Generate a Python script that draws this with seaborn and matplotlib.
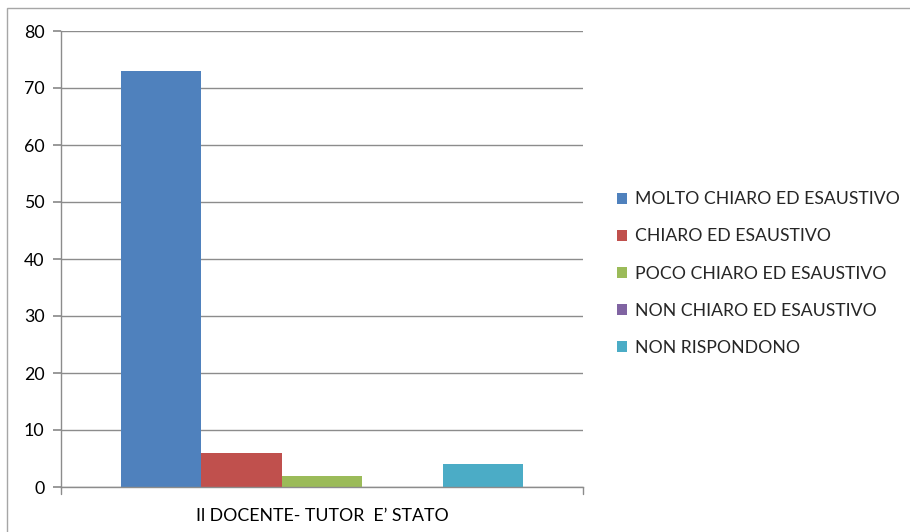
import matplotlib
matplotlib.use("Agg")
import matplotlib.pyplot as plt
import seaborn as sns
import pandas as pd
from matplotlib.patches import Rectangle

categories = ["Il DOCENTE- TUTOR  E\u2019 STATO"]
responses = ["MOLTO CHIARO ED ESAUSTIVO", "CHIARO ED ESAUSTIVO",
             "POCO CHIARO ED ESAUSTIVO", "NON CHIARO ED ESAUSTIVO",
             "NON RISPONDONO"]
values = [73, 6, 2, 0, 4]
colors = ["#4F81BD", "#C0504D", "#9BBB59", "#8064A2", "#4BACC6"]

df = pd.DataFrame({"cat": categories * len(responses),
                   "resp": responses, "val": values})

sns.set_theme(style="white")
plt.rcParams['font.family'] = ['Lato', 'DejaVu Sans']

fig = plt.figure(figsize=(9.10, 5.32), dpi=100)
ax = fig.add_axes([61/910, 45/532, (583-61)/910, (487-31)/532])

sns.barplot(data=df, x="cat", y="val", hue="resp", palette=colors,
            width=0.772, gap=0, ax=ax, legend=True, saturation=1,
            edgecolor="none", linewidth=0)

ax.set_xlim(-0.5, 0.5)
ax.set_ylim(0, 80)
ax.set_yticks(range(0, 81, 10))
ax.set_xlabel("")
ax.set_ylabel("")
gc = "#8C8C8C"
ax.yaxis.grid(True, color=gc, linewidth=1)
ax.set_axisbelow(True)
for s in ["top", "right"]:
    ax.spines[s].set_visible(False)
for s in ["left", "bottom"]:
    ax.spines[s].set_color(gc)
    ax.spines[s].set_linewidth(1)
ax.tick_params(axis="y", left=True, length=6, color=gc, labelsize=12.8,
               pad=6, labelcolor="black")
ax.tick_params(axis="x", bottom=False, labelsize=12.8, pad=9,
               labelcolor="black")
# end tick marks on x axis
for xv in (-0.5, 0.5):
    ax.plot([xv, xv], [0, -1.2], color=gc, lw=1, clip_on=False)

h, l = ax.get_legend_handles_labels()
ax.legend(h, l, loc="center left", bbox_to_anchor=(1.034, 0.468),
          frameon=False, fontsize=12.7, handlelength=0.58,
          handleheight=0.58, handletextpad=0.45, labelspacing=1.2)

fig.patches.append(Rectangle((7/910, -0.1), 1.2, (532-8)/532 + 0.1,
                             transform=fig.transFigure, fill=False,
                             edgecolor="#A6A6A6", linewidth=1))

fig.savefig("out.png", dpi=100)
